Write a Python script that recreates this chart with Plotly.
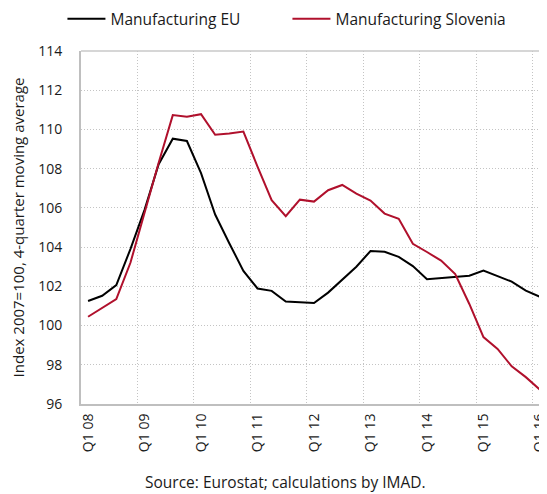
import plotly.graph_objects as go

quarters = [f"Q{q} {y:02d}" for y in range(8, 17) for q in range(1, 5)][:33]
tick_labels = ["Q1 08", "Q1 09", "Q1 10", "Q1 11", "Q1 12", "Q1 13", "Q1 14", "Q1 15", "Q1 16"]

eu = [101.25, 101.52, 102.06, 103.9, 105.9, 108.23, 109.53, 109.41, 107.77, 105.66,
      104.2, 102.79, 101.89, 101.77, 101.23, 101.18, 101.15, 101.68, 102.36, 103.0,
      103.8, 103.76, 103.5, 103.03, 102.36, 102.42, 102.46, 102.54, 102.81, 102.54,
      102.24, 101.78, 101.47]
slovenia = [100.45, 100.9, 101.35, 103.2, 105.8, 108.3, 110.73, 110.65, 110.78, 109.73,
            109.79, 109.89, 108.11, 106.39, 105.58, 106.42, 106.32, 106.9, 107.17, 106.73,
            106.37, 105.71, 105.44, 104.17, 103.75, 103.31, 102.63, 101.1, 99.41, 98.81,
            97.92, 97.37, 96.73]

x = list(range(len(quarters)))
tickvals = [quarters.index(t) for t in tick_labels]

font = "Open Sans"
grid = "#c4c4c4"
fig = go.Figure()
fig.add_trace(go.Scatter(x=x, y=eu, mode="lines", name="Manufacturing EU",
                         line=dict(color="#000000", width=2)))
fig.add_trace(go.Scatter(x=x, y=slovenia, mode="lines", name="Manufacturing Slovenia",
                         line=dict(color="#b0102c", width=2)))

fig.update_layout(
    width=539, height=486,
    margin=dict(l=73, r=0, t=43, b=90),
    paper_bgcolor="white", plot_bgcolor="white",
    font=dict(family=font, size=14, color="#1a1a1a"),
    showlegend=True,
    legend=dict(orientation="h", x=0.101, xanchor="left", xref="container",
                y=0.977, yref="container", yanchor="middle", font=dict(size=15.5),
                entrywidth=172, entrywidthmode="pixels", itemwidth=38,
                bgcolor="rgba(0,0,0,0)"),
    xaxis=dict(range=[-0.5, 32.5], tickmode="array", tickvals=tickvals,
               ticktext=tick_labels, tickangle=-90, showgrid=False, zeroline=False,
               showline=True, linecolor="#bfbfbf", linewidth=2, ticks="",
               automargin=False, tickfont=dict(size=14), ticklabelstandoff=2,
               ticklabeloverflow="allow",
               minor=dict(tick0=-0.5, dtick=4, showgrid=True, gridcolor=grid,
                          griddash="1px,2px", gridwidth=1, ticks="")),
    yaxis=dict(range=[96, 114], dtick=2, showgrid=True, gridcolor=grid,
               griddash="1px,2px", gridwidth=1, zeroline=False, showline=True,
               linecolor="#bfbfbf", linewidth=2, ticks="", automargin=False,
               tickfont=dict(size=14), ticklabelstandoff=14,
               title=dict(text="Index 2007=100, 4-quarter moving average",
                          font=dict(size=15), standoff=11)),
    shapes=[dict(type="line", xref="paper", yref="paper", x0=0, x1=1, y0=1, y1=1,
                 line=dict(color="#c8c8c8", width=1.5))],
    annotations=[dict(text="Source: Eurostat; calculations by IMAD.", xref="paper",
                      yref="paper", x=0.438, xanchor="center", y=-0.221, yanchor="middle",
                      showarrow=False, font=dict(size=15.5))],
)

fig.write_html("out.html")
